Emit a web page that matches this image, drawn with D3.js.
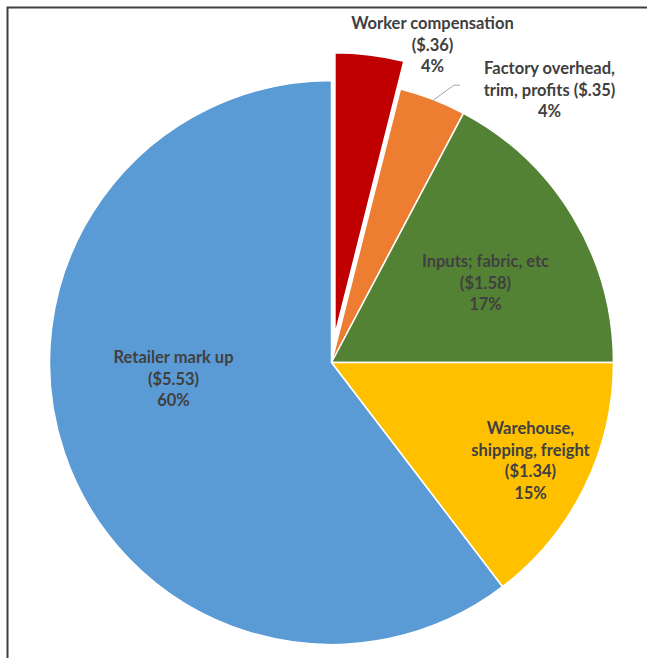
<!DOCTYPE html>
<html>
<head>
<meta charset="utf-8">
<script src="https://cdn.jsdelivr.net/npm/d3@7"></script>
<style>
  body { margin: 0; background: #fff; }
  text { font-family: Lato, "Open Sans", sans-serif; font-weight: bold; fill: #404040; }
</style>
</head>
<body>
<div id="chart"></div>
<script>
// cost breakdown of a garment, clockwise from 12 o'clock
const categories = ["Worker compensation", "Factory overhead, trim, profits", "Inputs; fabric, etc", "Warehouse, shipping, freight", "Retailer mark up"];
const values = [0.36, 0.35, 1.58, 1.34, 5.53];
const priceLabels = ["($.36)", "($.35)", "($1.58)", "($1.34)", "($5.53)"];
const percentLabels = ["4%", "4%", "17%", "15%", "60%"];
// label text as it is wrapped in the picture
const labelLines = [
    ["Worker compensation", "($.36)", "4%"],
    ["Factory overhead,", "trim, profits ($.35)", "4%"],
    ["Inputs; fabric, etc", "($1.58)", "17%"],
    ["Warehouse,", "shipping, freight", "($1.34)", "15%"],
    ["Retailer mark up", "($5.53)", "60%"]
];

// layout
const width = 647, height = 658;
const cx = 331.5, cy = 362.5, radius = 282;
const colors = ["#C00000", "#ED7D31", "#548235", "#FFC000", "#5B9BD5"];
const explode = [28, 0, 0, 0, 0];
// first-line position of each label, relative to the pie centre
const labelOffset = [[101, -339], [218, -294], [154, -101], [199, 66], [-158, -5]];
const lineHeight = 21.5;

const svg = d3.select("#chart").append("svg").attr("width", width).attr("height", height);

// frame (top and left edges only are inside the view)
svg.append("path")
    .attr("d", "M7.5," + height + "V7.5H" + width)
    .attr("fill", "none")
    .attr("stroke", "#404040")
    .attr("stroke-width", 2);

const pie = d3.pie().sort(null).value(d => d)(values);
const arc = d3.arc().innerRadius(0).outerRadius(radius);

const g = svg.append("g").attr("transform", "translate(" + cx + "," + cy + ")");

g.selectAll("path.slice")
    .data(pie)
    .enter()
    .append("path")
    .attr("class", "slice")
    .attr("transform", function (d, i) {
        let mid = (d.startAngle + d.endAngle) / 2;
        return "translate(" + (Math.sin(mid) * explode[i]) + "," + (-Math.cos(mid) * explode[i]) + ")";
    })
    .attr("d", arc)
    .attr("fill", (d, i) => colors[i])
    .attr("stroke", "#fff")
    .attr("stroke-width", 1.5)
    .attr("stroke-linejoin", "round");

// leader line for the factory overhead label, from the slice edge to the label
let fo = pie[1];
let foMid = (fo.startAngle + fo.endAngle) / 2;
let foEdge = [Math.sin(foMid) * (radius - 2), -Math.cos(foMid) * (radius - 2)];
g.append("polyline")
    .attr("points", [foEdge, [foEdge[0] + 22, foEdge[1] - 16], [foEdge[0] + 28, foEdge[1] - 16]].map(p => p.join(",")).join(" "))
    .attr("fill", "none")
    .attr("stroke", "#a6a6a6")
    .attr("stroke-width", 1);

const labels = g.selectAll("text.label")
    .data(labelLines)
    .enter()
    .append("text")
    .attr("class", "label")
    .attr("text-anchor", "middle")
    .attr("font-size", "16.5px");

labels.selectAll("tspan")
    .data((d, i) => d.map(s => ({ s: s, i: i })))
    .enter()
    .append("tspan")
    .attr("x", d => labelOffset[d.i][0])
    .attr("y", (d, j) => labelOffset[d.i][1] + j * lineHeight)
    .attr("dy", "0.35em")
    .text(d => d.s);
</script>
</body>
</html>
